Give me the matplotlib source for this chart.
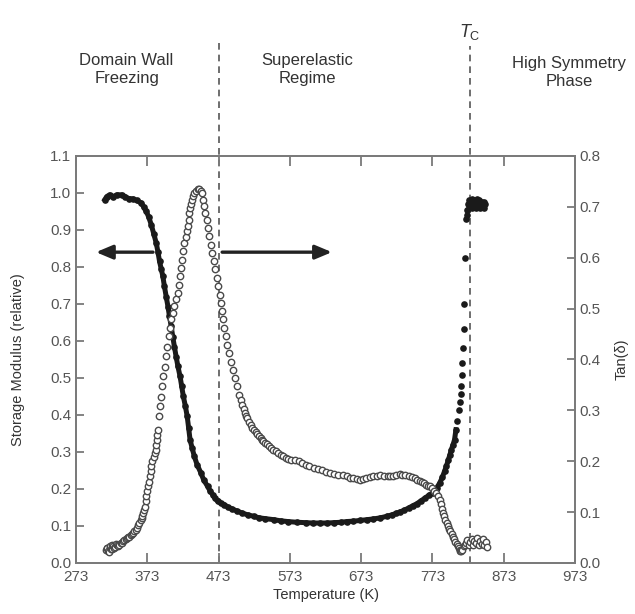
import numpy as np
import matplotlib
matplotlib.use('Agg')
import matplotlib.pyplot as plt

plt.rcParams['font.family'] = ['Liberation Sans', 'DejaVu Sans']
plt.rcParams['mathtext.fontset'] = 'custom'
plt.rcParams['mathtext.rm'] = 'Liberation Sans'
plt.rcParams['mathtext.it'] = 'Liberation Sans:italic'

# storage modulus (relative), filled dots, left axis
t_mod = [313.4, 316, 320, 325, 330, 337, 342, 347, 353, 358, 364.6, 368, 371.6,
         375, 378.6, 382, 385.5, 388, 390.2, 392.5, 394.8, 397, 399.5, 402,
         404.1, 406.5, 408.7, 411, 413.4, 416, 419, 421.3, 423.6, 426.5, 429,
         431, 433, 436, 439, 443, 448.3, 452, 457.6, 461, 464.6, 468, 471.6,
         476, 480.8, 486, 492, 499.4, 506, 514, 522.7, 530, 538, 550.5, 560,
         570, 583, 595, 605, 615.7, 625, 635, 645, 652.8, 662, 672, 680.7, 690,
         700, 708.6, 716, 722, 727.2, 733, 740, 745.8, 751, 757, 763, 768,
         773.9, 779, 783.2, 787, 790, 792.5, 795, 797.5, 799.5, 802, 804,
         806, 808, 810, 812, 812.5, 813, 814, 815, 816, 817, 817.5, 819,
         820, 821, 822, 823, 824, 825, 826, 827, 828, 829, 830, 831, 832, 833,
         834, 835, 836, 837, 838, 839, 840, 841, 842, 843, 844, 845, 846, 847]
modulus = [0.982, 0.99, 0.995, 0.99, 0.995, 0.995, 0.99, 0.985, 0.984, 0.98,
           0.973, 0.962, 0.95, 0.935, 0.914, 0.89, 0.865, 0.84, 0.815, 0.795,
           0.775, 0.748, 0.72, 0.693, 0.667, 0.64, 0.612, 0.585, 0.558, 0.531,
           0.504, 0.477, 0.45, 0.423, 0.396, 0.365, 0.333, 0.31, 0.288, 0.265,
           0.243, 0.225, 0.207, 0.195, 0.185, 0.175, 0.167, 0.162, 0.158, 0.151,
           0.146, 0.14, 0.135, 0.13, 0.126, 0.122, 0.12, 0.117, 0.114, 0.112,
           0.11, 0.109, 0.108, 0.108, 0.108, 0.109, 0.11, 0.112, 0.113, 0.115,
           0.117, 0.119, 0.122, 0.126, 0.13, 0.134, 0.138, 0.142, 0.149, 0.155,
           0.16, 0.168, 0.176, 0.183, 0.19, 0.203, 0.216, 0.232, 0.248, 0.261,
           0.277, 0.292, 0.306, 0.32, 0.333, 0.36, 0.385, 0.4125, 0.435, 0.456,
           0.479, 0.508, 0.54, 0.582, 0.632, 0.70, 0.825,
           0.93, 0.94, 0.955, 0.97, 0.96, 0.98, 0.965, 0.975, 0.96, 0.985, 0.97,
           0.965, 0.98, 0.975, 0.96, 0.97, 0.985, 0.965, 0.975, 0.98, 0.96,
           0.97, 0.975, 0.965, 0.97, 0.975, 0.96, 0.97]

# tan(delta), open circles, right axis
t_tan = [315, 316, 317, 318, 319, 320, 321, 322, 323, 324, 325, 326.5, 328,
         329.5, 331, 332.5, 334, 335.5, 337, 339, 341, 343, 345, 346.5, 348,
         350, 352, 353.5, 355, 357, 359, 360.5, 362, 363.5, 365, 366, 367,
         368.2, 369.4, 370.5, 371.7, 373, 374, 375.2, 376.4, 377.5, 378.7,
         380.3, 382, 383.4, 384.7, 385.6, 386.6, 387.3, 388, 389.2, 391, 392.5,
         394, 395.7, 397.5, 399.5, 401, 403, 404.5, 406.4, 409, 411, 413.5,
         415.7, 417.5, 419, 420.5, 421.8, 423.5, 425, 426.7, 428.2, 429.5, 431,
         432, 433, 434.5, 435.7, 437.5, 439, 441, 443.5, 446, 448, 449.6, 451,
         452.8, 454.5, 456.1, 458, 459.8, 461.7, 463.5, 466, 468.2, 470.5,
         472.8, 474.5, 476.1, 477.7, 479.3, 481, 483, 485.3, 487.7, 490.5,
         493.3, 496.3, 499.3, 502, 504, 506.3, 508, 510, 511.5, 513.3, 515.5,
         518, 520, 522.7, 525, 527, 529.5, 532, 534, 536, 538.5, 541.2, 544,
         547, 550, 552.9, 556, 560, 563.5, 566.9, 571, 575, 580, 585.4, 590,
         595, 600, 606.3, 612, 618, 624, 629.6, 635, 641, 647, 652.8, 657, 662,
         667, 671.5, 676, 680, 685, 690, 695, 700, 705, 710, 714, 717.9, 722,
         727, 731, 735, 740, 745, 748.5, 752, 755, 758, 761, 764, 766.5, 769,
         772, 775, 778, 781, 783, 784.5, 786, 787.8, 789.5, 791, 793, 794.7,
         796.5, 798, 800, 801.7, 803.5, 805, 807, 808.7, 810, 811, 812.2,
         813.4, 815, 817, 818.5, 820.4, 822, 824, 826, 828, 830, 832, 834, 836,
         838, 840, 842, 844, 846, 848, 849]
tan_d = [0.026, 0.030, 0.029, 0.024, 0.022, 0.031, 0.033, 0.027, 0.028, 0.036,
         0.034, 0.030, 0.031, 0.037, 0.036, 0.033, 0.036, 0.039, 0.040, 0.043,
         0.046, 0.047, 0.049, 0.051, 0.052, 0.055, 0.057, 0.059, 0.062, 0.065,
         0.069, 0.074, 0.079, 0.084, 0.089, 0.093, 0.098, 0.104, 0.111, 0.121,
         0.131, 0.141, 0.151, 0.160, 0.170, 0.180, 0.190, 0.200, 0.209, 0.216,
         0.223, 0.232, 0.242, 0.252, 0.262, 0.288, 0.308, 0.327, 0.347, 0.367,
         0.386, 0.406, 0.425, 0.446, 0.462, 0.479, 0.492, 0.505, 0.518, 0.531,
         0.547, 0.564, 0.580, 0.596, 0.613, 0.629, 0.641, 0.652, 0.663, 0.675,
         0.687, 0.698, 0.706, 0.714, 0.721, 0.727, 0.732, 0.736, 0.735, 0.731,
         0.727, 0.714, 0.701, 0.688, 0.675, 0.658, 0.642, 0.625, 0.609, 0.593,
         0.577, 0.560, 0.544, 0.527, 0.511, 0.495, 0.479, 0.462, 0.446, 0.429,
         0.412, 0.396, 0.380, 0.364, 0.347, 0.331, 0.320, 0.311, 0.303, 0.295,
         0.289, 0.284, 0.277, 0.271, 0.266, 0.262, 0.258, 0.254, 0.250, 0.246,
         0.242, 0.239, 0.236, 0.233, 0.229, 0.226, 0.223, 0.220, 0.217, 0.213,
         0.210, 0.207, 0.205, 0.203, 0.202, 0.200, 0.196, 0.192, 0.190, 0.187,
         0.184, 0.182, 0.179, 0.177, 0.175, 0.173, 0.172, 0.170, 0.168, 0.167,
         0.165, 0.164, 0.166, 0.167, 0.169, 0.170, 0.171, 0.172, 0.171, 0.171,
         0.170, 0.170, 0.172, 0.174, 0.173, 0.172, 0.170, 0.169, 0.167, 0.164,
         0.161, 0.159, 0.157, 0.154, 0.152, 0.151, 0.147, 0.142, 0.137, 0.131,
         0.123, 0.115, 0.107, 0.098, 0.092, 0.085, 0.078, 0.072, 0.067, 0.062,
         0.057, 0.052, 0.047, 0.042, 0.037, 0.033, 0.029, 0.026, 0.024, 0.023,
         0.026, 0.033, 0.036, 0.039, 0.045, 0.035, 0.042, 0.048, 0.036, 0.044,
         0.040, 0.049, 0.035, 0.044, 0.038, 0.047, 0.036, 0.042, 0.031]

x_ticks = [273, 373, 473, 573, 673, 773, 873, 973]
left_ticks = np.round(np.arange(0, 1.11, 0.1), 1)
right_ticks = np.round(np.arange(0, 0.81, 0.1), 1)

t_boundary = 473
t_c = 826

grey = '#7a7a7a'
txt = '#333333'

fig = plt.figure(figsize=(6.35, 6.14), dpi=100)
ax = fig.add_axes([0.1197, 0.0831, 0.7858, 0.6629])
ax2 = ax.twinx()

t_mod = np.array(t_mod)
modulus = np.array(modulus)
smooth = t_mod < 807
ax.plot(t_mod[smooth], modulus[smooth], '-', color='#1a1a1a', lw=3.6, zorder=2)
ax.plot(t_mod, modulus, 'o', color='#1a1a1a', ms=4.8, mew=0, zorder=3)

ax2.plot(t_tan, tan_d, 'o', mfc='white', mec='#4a4a4a', mew=1.0, ms=4.6)

ax.set_xlim(273, 973)
ax.set_ylim(0, 1.1)
ax2.set_ylim(0, 0.8)
ax.set_xticks(x_ticks)
ax.set_yticks(left_ticks)
ax.set_yticklabels(['%.1f' % v for v in left_ticks])
ax2.set_yticks(right_ticks)
ax2.set_yticklabels(['%.1f' % v for v in right_ticks])

for a in (ax, ax2):
    for s in a.spines.values():
        s.set_color(grey)
        s.set_linewidth(1.3)
ax.tick_params(axis='x', direction='in', top=True, length=7, width=1.3,
               color=grey, labelsize=11, labelcolor='#555555', pad=5)
ax.tick_params(axis='y', direction='in', length=6, width=1.3,
               color=grey, labelsize=11, labelcolor='#555555')
ax2.tick_params(axis='y', direction='in', length=6, width=1.3,
                color=grey, labelsize=11, labelcolor='#555555')

ax.set_xlabel('Temperature (K)', fontsize=10.5, color=txt, labelpad=3)
ax.set_ylabel('Storage Modulus (relative)', fontsize=10.5, color=txt, labelpad=18)
ax2.set_ylabel('Tan(δ)', fontsize=10.5, color=txt, labelpad=10)

# phase boundaries
ax.axvline(t_boundary, 0, 1.282, color='#555555', lw=1.2, ls=(0, (4, 3)),
           clip_on=False, zorder=1)
ax.axvline(t_c, 0, 1.27, color='#555555', lw=1.2, ls=(0, (4, 3)),
           clip_on=False, zorder=1)

tr = ax.get_xaxis_transform()
ax.text(t_c, 1.305, r'$T_\mathrm{C}$', transform=tr, ha='center', va='center',
        fontsize=13, color=txt)
ax.text(344, 1.212, 'Domain Wall\nFreezing', transform=tr, ha='center',
        va='center', fontsize=12, color=txt, linespacing=1.25)
ax.text(597, 1.212, 'Superelastic\nRegime', transform=tr, ha='center',
        va='center', fontsize=12, color=txt, linespacing=1.25)
ax.text(965, 1.205, 'High Symmetry\nPhase', transform=tr, ha='center',
        va='center', fontsize=12, color=txt, linespacing=1.25)

# arrows pointing to the axis each curve belongs to
arrow = dict(arrowstyle='-|>,head_length=1.0,head_width=0.42', lw=2.4,
             color='#222222', shrinkA=0, shrinkB=0)
ax.annotate('', xy=(301, 0.84), xytext=(381, 0.84), arrowprops=arrow)
ax.annotate('', xy=(632, 0.84), xytext=(478, 0.84), arrowprops=arrow)

fig.savefig('out.png', dpi=100)
